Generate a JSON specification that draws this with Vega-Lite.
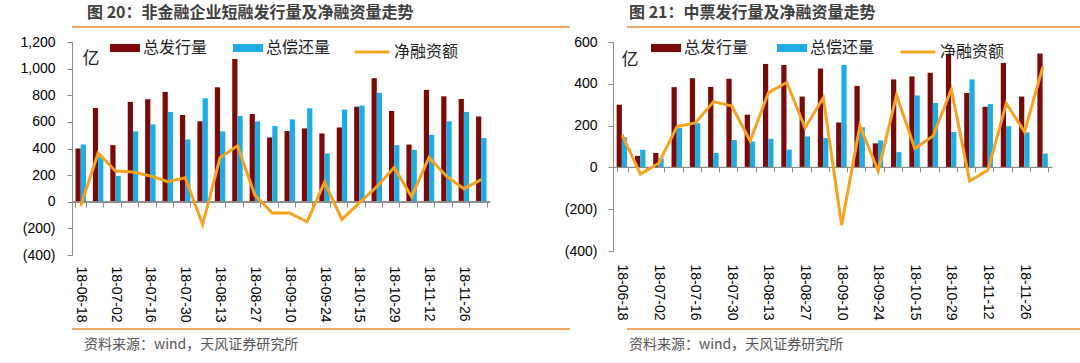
{
"$schema": "https://vega.github.io/schema/vega-lite/v6.json",
"padding": {"left": 0, "top": 5, "right": 0, "bottom": 0},
"config": {"font": "Liberation Sans", "view": {"stroke": null}},
"datasets": {
"L": [
{"d":"18-06-18","s":"总发行量","v":400},{"d":"18-06-18","s":"总偿还量","v":430},{"d":"18-06-18","s":"净融资额","v":-33},
{"d":"18-06-25","s":"总发行量","v":704},{"d":"18-06-25","s":"总偿还量","v":340},{"d":"18-06-25","s":"净融资额","v":365},
{"d":"18-07-02","s":"总发行量","v":425},{"d":"18-07-02","s":"总偿还量","v":194},{"d":"18-07-02","s":"净融资额","v":231},
{"d":"18-07-09","s":"总发行量","v":750},{"d":"18-07-09","s":"总偿还量","v":528},{"d":"18-07-09","s":"净融资额","v":224},
{"d":"18-07-16","s":"总发行量","v":770},{"d":"18-07-16","s":"总偿还量","v":581},{"d":"18-07-16","s":"净融资额","v":194},
{"d":"18-07-23","s":"总发行量","v":825},{"d":"18-07-23","s":"总偿还量","v":674},{"d":"18-07-23","s":"净融资额","v":151},
{"d":"18-07-30","s":"总发行量","v":652},{"d":"18-07-30","s":"总偿还量","v":468},{"d":"18-07-30","s":"净融资额","v":181},
{"d":"18-08-06","s":"总发行量","v":604},{"d":"18-08-06","s":"总偿还量","v":777},{"d":"18-08-06","s":"净融资额","v":-171},
{"d":"18-08-13","s":"总发行量","v":860},{"d":"18-08-13","s":"总偿还量","v":528},{"d":"18-08-13","s":"净融资额","v":332},
{"d":"18-08-20","s":"总发行量","v":1072},{"d":"18-08-20","s":"总偿还量","v":644},{"d":"18-08-20","s":"净融资额","v":420},
{"d":"18-08-27","s":"总发行量","v":659},{"d":"18-08-27","s":"总偿还量","v":604},{"d":"18-08-27","s":"净融资额","v":50},
{"d":"18-09-03","s":"总发行量","v":483},{"d":"18-09-03","s":"总偿还量","v":569},{"d":"18-09-03","s":"净融资额","v":-84},
{"d":"18-09-10","s":"总发行量","v":531},{"d":"18-09-10","s":"总偿还量","v":619},{"d":"18-09-10","s":"净融资额","v":-85},
{"d":"18-09-17","s":"总发行量","v":551},{"d":"18-09-17","s":"总偿还量","v":702},{"d":"18-09-17","s":"净融资额","v":-150},
{"d":"18-09-24","s":"总发行量","v":513},{"d":"18-09-24","s":"总偿还量","v":362},{"d":"18-09-24","s":"净融资额","v":148},
{"d":"18-10-08","s":"总发行量","v":558},{"d":"18-10-08","s":"总偿还量","v":692},{"d":"18-10-08","s":"净融资额","v":-133},
{"d":"18-10-15","s":"总发行量","v":714},{"d":"18-10-15","s":"总偿还量","v":722},{"d":"18-10-15","s":"净融资额","v":-8},
{"d":"18-10-22","s":"总发行量","v":928},{"d":"18-10-22","s":"总偿还量","v":818},{"d":"18-10-22","s":"净融资额","v":113},
{"d":"18-10-29","s":"总发行量","v":682},{"d":"18-10-29","s":"总偿还量","v":425},{"d":"18-10-29","s":"净融资额","v":257},
{"d":"18-11-05","s":"总发行量","v":430},{"d":"18-11-05","s":"总偿还量","v":390},{"d":"18-11-05","s":"净融资额","v":38},
{"d":"18-11-12","s":"总发行量","v":840},{"d":"18-11-12","s":"总偿还量","v":503},{"d":"18-11-12","s":"净融资额","v":333},
{"d":"18-11-19","s":"总发行量","v":792},{"d":"18-11-19","s":"总偿还量","v":604},{"d":"18-11-19","s":"净融资额","v":192},
{"d":"18-11-26","s":"总发行量","v":772},{"d":"18-11-26","s":"总偿还量","v":674},{"d":"18-11-26","s":"净融资额","v":98},
{"d":"18-12-03","s":"总发行量","v":641},{"d":"18-12-03","s":"总偿还量","v":478},{"d":"18-12-03","s":"净融资额","v":166}
],
"R": [
{"d":"18-06-18","s":"总发行量","v":300},{"d":"18-06-18","s":"总偿还量","v":144},{"d":"18-06-18","s":"净融资额","v":156},
{"d":"18-06-25","s":"总发行量","v":55},{"d":"18-06-25","s":"总偿还量","v":84},{"d":"18-06-25","s":"净融资额","v":-32},
{"d":"18-07-02","s":"总发行量","v":69},{"d":"18-07-02","s":"总偿还量","v":44},{"d":"18-07-02","s":"净融资额","v":20},
{"d":"18-07-09","s":"总发行量","v":384},{"d":"18-07-09","s":"总偿还量","v":188},{"d":"18-07-09","s":"净融资额","v":195},
{"d":"18-07-16","s":"总发行量","v":427},{"d":"18-07-16","s":"总偿还量","v":211},{"d":"18-07-16","s":"净融资额","v":213},
{"d":"18-07-23","s":"总发行量","v":385},{"d":"18-07-23","s":"总偿还量","v":69},{"d":"18-07-23","s":"净融资额","v":315},
{"d":"18-07-30","s":"总发行量","v":424},{"d":"18-07-30","s":"总偿还量","v":131},{"d":"18-07-30","s":"净融资额","v":294},
{"d":"18-08-06","s":"总发行量","v":252},{"d":"18-08-06","s":"总偿还量","v":124},{"d":"18-08-06","s":"净融资额","v":126},
{"d":"18-08-13","s":"总发行量","v":495},{"d":"18-08-13","s":"总偿还量","v":137},{"d":"18-08-13","s":"净融资额","v":358},
{"d":"18-08-20","s":"总发行量","v":490},{"d":"18-08-20","s":"总偿还量","v":85},{"d":"18-08-20","s":"净融资额","v":406},
{"d":"18-08-27","s":"总发行量","v":339},{"d":"18-08-27","s":"总偿还量","v":148},{"d":"18-08-27","s":"净融资额","v":190},
{"d":"18-09-03","s":"总发行量","v":473},{"d":"18-09-03","s":"总偿还量","v":140},{"d":"18-09-03","s":"净融资额","v":333},
{"d":"18-09-10","s":"总发行量","v":215},{"d":"18-09-10","s":"总偿还量","v":490},{"d":"18-09-10","s":"净融资额","v":-277},
{"d":"18-09-17","s":"总发行量","v":390},{"d":"18-09-17","s":"总偿还量","v":192},{"d":"18-09-17","s":"净融资额","v":200},
{"d":"18-09-24","s":"总发行量","v":115},{"d":"18-09-24","s":"总偿还量","v":129},{"d":"18-09-24","s":"净融资额","v":-18},
{"d":"18-10-08","s":"总发行量","v":421},{"d":"18-10-08","s":"总偿还量","v":73},{"d":"18-10-08","s":"净融资额","v":346},
{"d":"18-10-15","s":"总发行量","v":435},{"d":"18-10-15","s":"总偿还量","v":344},{"d":"18-10-15","s":"净融资额","v":90},
{"d":"18-10-22","s":"总发行量","v":453},{"d":"18-10-22","s":"总偿还量","v":308},{"d":"18-10-22","s":"净融资额","v":150},
{"d":"18-10-29","s":"总发行量","v":544},{"d":"18-10-29","s":"总偿还量","v":169},{"d":"18-10-29","s":"净融资额","v":374},
{"d":"18-11-05","s":"总发行量","v":356},{"d":"18-11-05","s":"总偿还量","v":421},{"d":"18-11-05","s":"净融资额","v":-66},
{"d":"18-11-12","s":"总发行量","v":290},{"d":"18-11-12","s":"总偿还量","v":303},{"d":"18-11-12","s":"净融资额","v":-13},
{"d":"18-11-19","s":"总发行量","v":500},{"d":"18-11-19","s":"总偿还量","v":197},{"d":"18-11-19","s":"净融资额","v":306},
{"d":"18-11-26","s":"总发行量","v":339},{"d":"18-11-26","s":"总偿还量","v":168},{"d":"18-11-26","s":"净融资额","v":170},
{"d":"18-12-03","s":"总发行量","v":545},{"d":"18-12-03","s":"总偿还量","v":66},{"d":"18-12-03","s":"净融资额","v":481}
],
"sep": [{"k": 0}],
"band": [{"a": 0, "b": 1, "c": 0, "e": 1}]
},
"resolve": {"scale": {"color": "independent", "stroke": "independent"}, "legend": {"color": "independent", "stroke": "independent"}},
"spacing": 5,
"vconcat": [
{"hconcat": [
 {"width": 498, "height": 2, "data": {"name": "band"}, "mark": {"type": "bar", "color": "#F0A868"},
  "view": {"fill": "#F0A868", "stroke": null},
  "encoding": {"x": {"field": "a", "type": "quantitative", "scale": {"domain": [0, 1]}, "axis": null}, "x2": {"field": "b"}, "y": {"field": "c", "type": "quantitative", "scale": {"domain": [0, 1]}, "axis": null}, "y2": {"field": "e"}},
  "title": {"text": "图 20：非金融企业短融发行量及净融资量走势", "anchor": "start", "font": "Noto Sans CJK SC", "fontSize": 16, "fontWeight": "bold", "color": "#404040", "offset": 5, "dx": 15}},
 {"width": 520, "height": 2, "data": {"name": "band"}, "mark": {"type": "bar", "color": "#F0A868"},
  "view": {"fill": "#F0A868", "stroke": null},
  "encoding": {"x": {"field": "a", "type": "quantitative", "scale": {"domain": [0, 1]}, "axis": null}, "x2": {"field": "b"}, "y": {"field": "c", "type": "quantitative", "scale": {"domain": [0, 1]}, "axis": null}, "y2": {"field": "e"}},
  "title": {"text": "图 21：中票发行量及净融资量走势", "anchor": "start", "font": "Noto Sans CJK SC", "fontSize": 16, "fontWeight": "bold", "color": "#404040", "offset": 5, "dx": 2}}
 ], "spacing": 57},
{"hconcat": [
{"width": 418, "height": 213,
 "resolve": {"axis": {"x": "independent"}},
 "layer": [
  {"data": {"name": "L"}, "transform": [{"filter": "datum.s !== '净融资额'"}],
   "mark": {"type": "bar"},
   "encoding": {
    "x": {"field": "d", "type": "ordinal",
     "scale": {"domain": ["18-06-18","18-06-25","18-07-02","18-07-09","18-07-16","18-07-23","18-07-30","18-08-06","18-08-13","18-08-20","18-08-27","18-09-03","18-09-10","18-09-17","18-09-24","18-10-08","18-10-15","18-10-22","18-10-29","18-11-05","18-11-12","18-11-19","18-11-26","18-12-03"], "paddingInner": 0.4, "paddingOuter": 0.2},
     "axis": {"orient": "bottom", "title": null, "labels": false, "domain": true, "domainColor": "#8c8c8c", "ticks": true, "tickBand": "extent", "tickSize": 5, "tickColor": "#8c8c8c", "offset": -53, "grid": false}},
    "xOffset": {"field": "s", "type": "nominal", "sort": ["总发行量","总偿还量"], "scale": {"paddingInner": 0, "paddingOuter": 0}},
    "y": {"field": "v", "type": "quantitative", "scale": {"domain": [-400, 1200], "nice": false, "zero": false},
     "axis": {"values": [-400,-200,0,200,400,600,800,1000,1200], "tickCount": 20, "labelOverlap": false, "minExtent": 72, "grid": false, "domainColor": "#8c8c8c", "tickColor": "#8c8c8c", "tickSize": 5, "labelPadding": 12, "labelFontSize": 14, "labelColor": "#000000",
      "labelExpr": "datum.value < 0 ? '(' + format(-datum.value, ',') + ')' : format(datum.value, ',')",
      "title": "亿", "titleAngle": 0, "titleX": 10, "titleY": 16, "titleAlign": "left", "titleBaseline": "middle", "titleFont": "Noto Sans CJK SC", "titleFontSize": 17, "titleFontWeight": "normal", "titleColor": "#222222"}},
    "color": {"field": "s", "type": "nominal", "scale": {"domain": ["总发行量","总偿还量"], "range": ["#7A0A0A", "#1CADE4"]},
     "legend": {"orient": "none", "legendX": 38, "legendY": -9, "direction": "horizontal", "title": null, "symbolType": "M-1,-0.27H1V0.27H-1Z", "symbolSize": 900, "symbolStrokeWidth": 0, "labelFont": "Noto Sans CJK SC", "labelFontSize": 16, "labelOffset": 3, "columnPadding": 25, "labelColor": "#222222"}}
   }},
  {"data": {"name": "sep"}, "mark": {"type": "rect", "fill": null, "stroke": "#8c8c8c", "strokeWidth": 1},
   "encoding": {"y": {"datum": 0, "type": "quantitative"}, "y2": {"datum": 0}}},
  {"data": {"name": "L"}, "transform": [{"filter": "datum.s === '净融资额'"}],
   "mark": {"type": "line", "strokeWidth": 3},
   "encoding": {
    "x": {"field": "d", "type": "ordinal",
     "axis": {"orient": "bottom", "title": null, "values": ["18-06-18","18-07-02","18-07-16","18-07-30","18-08-13","18-08-27","18-09-10","18-09-24","18-10-15","18-10-29","18-11-12","18-11-26"], "labelAngle": 90, "labelAlign": "left", "labelBaseline": "middle", "domain": false, "ticks": false, "grid": false, "labelPadding": 11, "labelFontSize": 14, "labelColor": "#000000", "labelOverlap": false}},
    "y": {"field": "v", "type": "quantitative",
     "axis": {"values": [-400,-200,0,200,400,600,800,1000,1200], "tickCount": 20, "labelOverlap": false, "minExtent": 72, "grid": false, "domainColor": "#8c8c8c", "tickColor": "#8c8c8c", "tickSize": 5, "labelPadding": 12, "labelFontSize": 14, "labelColor": "#000000",
      "labelExpr": "datum.value < 0 ? '(' + format(-datum.value, ',') + ')' : format(datum.value, ',')",
      "title": "亿", "titleAngle": 0, "titleX": 10, "titleY": 16, "titleAlign": "left", "titleBaseline": "middle", "titleFont": "Noto Sans CJK SC", "titleFontSize": 17, "titleFontWeight": "normal", "titleColor": "#222222"}},
    "stroke": {"field": "s", "type": "nominal", "scale": {"domain": ["净融资额"], "range": ["#F4A21F"]},
     "legend": {"orient": "none", "legendX": 281, "legendY": -9, "title": null, "symbolType": "stroke", "symbolSize": 1225, "symbolStrokeWidth": 3, "labelFont": "Noto Sans CJK SC", "labelFontSize": 16, "labelOffset": 3, "labelColor": "#222222"}}
   }}
 ]},
{"width": 439, "height": 209,
 "resolve": {"axis": {"x": "independent"}},
 "layer": [
  {"data": {"name": "R"}, "transform": [{"filter": "datum.s !== '净融资额'"}],
   "mark": {"type": "bar"},
   "encoding": {
    "x": {"field": "d", "type": "ordinal",
     "scale": {"domain": ["18-06-18","18-06-25","18-07-02","18-07-09","18-07-16","18-07-23","18-07-30","18-08-06","18-08-13","18-08-20","18-08-27","18-09-03","18-09-10","18-09-17","18-09-24","18-10-08","18-10-15","18-10-22","18-10-29","18-11-05","18-11-12","18-11-19","18-11-26","18-12-03"], "paddingInner": 0.4, "paddingOuter": 0.2},
     "axis": {"orient": "bottom", "title": null, "labels": false, "domain": true, "domainColor": "#8c8c8c", "ticks": true, "tickBand": "extent", "tickSize": 5, "tickColor": "#8c8c8c", "offset": -84, "grid": false}},
    "xOffset": {"field": "s", "type": "nominal", "sort": ["总发行量","总偿还量"], "scale": {"paddingInner": 0, "paddingOuter": 0}},
    "y": {"field": "v", "type": "quantitative", "scale": {"domain": [-400, 600], "nice": false, "zero": false},
     "axis": {"values": [-400,-200,0,200,400,600], "tickCount": 20, "labelOverlap": false, "minExtent": 57, "grid": false, "domainColor": "#8c8c8c", "tickColor": "#8c8c8c", "tickSize": 5, "labelPadding": 11, "labelFontSize": 14, "labelColor": "#000000",
      "labelExpr": "datum.value < 0 ? '(' + format(-datum.value, ',') + ')' : format(datum.value, ',')",
      "title": "亿", "titleAngle": 0, "titleX": 8, "titleY": 17, "titleAlign": "left", "titleBaseline": "middle", "titleFont": "Noto Sans CJK SC", "titleFontSize": 17, "titleFontWeight": "normal", "titleColor": "#222222"}},
    "color": {"field": "s", "type": "nominal", "scale": {"domain": ["总发行量","总偿还量"], "range": ["#7A0A0A", "#1CADE4"]},
     "legend": {"orient": "none", "legendX": 38, "legendY": -9, "direction": "horizontal", "title": null, "symbolType": "M-1,-0.27H1V0.27H-1Z", "symbolSize": 900, "symbolStrokeWidth": 0, "labelFont": "Noto Sans CJK SC", "labelFontSize": 16, "labelOffset": 3, "columnPadding": 28, "labelColor": "#222222"}}
   }},
  {"data": {"name": "sep"}, "mark": {"type": "rect", "fill": null, "stroke": "#8c8c8c", "strokeWidth": 1},
   "encoding": {"y": {"datum": 0, "type": "quantitative"}, "y2": {"datum": 0}}},
  {"data": {"name": "R"}, "transform": [{"filter": "datum.s === '净融资额'"}],
   "mark": {"type": "line", "strokeWidth": 3},
   "encoding": {
    "x": {"field": "d", "type": "ordinal",
     "axis": {"orient": "bottom", "title": null, "values": ["18-06-18","18-07-02","18-07-16","18-07-30","18-08-13","18-08-27","18-09-10","18-09-24","18-10-15","18-10-29","18-11-12","18-11-26"], "labelAngle": 90, "labelAlign": "left", "labelBaseline": "middle", "domain": false, "ticks": false, "grid": false, "labelPadding": 13, "labelFontSize": 14, "labelColor": "#000000", "labelOverlap": false}},
    "y": {"field": "v", "type": "quantitative",
     "axis": {"values": [-400,-200,0,200,400,600], "tickCount": 20, "labelOverlap": false, "minExtent": 57, "grid": false, "domainColor": "#8c8c8c", "tickColor": "#8c8c8c", "tickSize": 5, "labelPadding": 11, "labelFontSize": 14, "labelColor": "#000000",
      "labelExpr": "datum.value < 0 ? '(' + format(-datum.value, ',') + ')' : format(datum.value, ',')",
      "title": "亿", "titleAngle": 0, "titleX": 8, "titleY": 17, "titleAlign": "left", "titleBaseline": "middle", "titleFont": "Noto Sans CJK SC", "titleFontSize": 17, "titleFontWeight": "normal", "titleColor": "#222222"}},
    "stroke": {"field": "s", "type": "nominal", "scale": {"domain": ["净融资额"], "range": ["#F4A21F"]},
     "legend": {"orient": "none", "legendX": 286, "legendY": -9, "title": null, "symbolType": "stroke", "symbolSize": 1225, "symbolStrokeWidth": 3, "labelFont": "Noto Sans CJK SC", "labelFontSize": 16, "labelOffset": 3, "labelColor": "#222222"}}
   }}
 ]}
 ], "spacing": 65,
 "resolve": {"scale": {"color": "independent", "stroke": "independent"}, "legend": {"color": "independent", "stroke": "independent"}}},
{"hconcat": [
 {"width": 498, "height": 2, "data": {"name": "band"}, "mark": {"type": "bar", "color": "#F0A868"},
  "view": {"fill": "#F0A868", "stroke": null},
  "encoding": {"x": {"field": "a", "type": "quantitative", "scale": {"domain": [0, 1]}, "axis": null}, "x2": {"field": "b"}, "y": {"field": "c", "type": "quantitative", "scale": {"domain": [0, 1]}, "axis": null}, "y2": {"field": "e"}},
  "title": {"text": "资料来源：wind，天风证券研究所", "orient": "bottom", "anchor": "start", "font": "Noto Sans CJK SC", "fontSize": 14, "fontWeight": "normal", "color": "#555555", "offset": 8, "dx": 12}},
 {"width": 520, "height": 2, "data": {"name": "band"}, "mark": {"type": "bar", "color": "#F0A868"},
  "view": {"fill": "#F0A868", "stroke": null},
  "encoding": {"x": {"field": "a", "type": "quantitative", "scale": {"domain": [0, 1]}, "axis": null}, "x2": {"field": "b"}, "y": {"field": "c", "type": "quantitative", "scale": {"domain": [0, 1]}, "axis": null}, "y2": {"field": "e"}},
  "title": {"text": "资料来源：wind，天风证券研究所", "orient": "bottom", "anchor": "start", "font": "Noto Sans CJK SC", "fontSize": 14, "fontWeight": "normal", "color": "#555555", "offset": 8, "dx": 2}}
 ], "spacing": 57}
]
}
